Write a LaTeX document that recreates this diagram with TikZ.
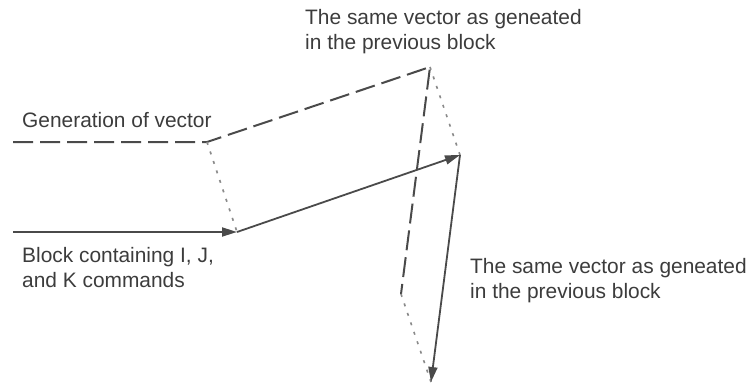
\documentclass[tikz,border=0pt]{standalone}
\usepackage{fontspec}
\setmainfont{Liberation Sans}
\usetikzlibrary{arrows.meta}
\definecolor{ink}{HTML}{4A4A4A}
\definecolor{txt}{HTML}{3C3C3C}
\definecolor{dotc}{HTML}{8A8A8A}
\tikzset{
  dashline/.style={draw=ink, line width=2pt, dash pattern=on 20pt off 7pt},
  dotline/.style={draw=dotc, line width=1.6pt, dash pattern=on 3pt off 7pt},
  vecline/.style={draw=ink, line width=1.8pt, -{Triangle[length=15pt,width=9pt]}},
  lbl/.style={inner sep=0pt, anchor=base west, align=left, text=txt,
    font=\fontsize{20.9}{24.5}\selectfont}
}
\begin{document}
\begin{tikzpicture}[x=1pt,y=-1pt]
\useasboundingbox (0,0) rectangle (750,383);
\coordinate (g0) at (13,142);
\coordinate (g1) at (207,142);
\coordinate (g2) at (430,67);
\coordinate (g3) at (401,294);
\coordinate (b0) at (13,232);
\coordinate (b1) at (237,232);
\coordinate (b2) at (460,155);
\coordinate (b3) at (431,382);
% dashed path
\draw[dashline] (g0) -- (g1) -- (g2) -- (g3);
% dotted connectors
\draw[dotline] (g1) -- (b1);
\draw[dotline] (g2) -- (b2);
\draw[dotline] (g3) -- (b3);
% solid vectors
\draw[vecline] (b0) -- (b1);
\draw[vecline] (b1) -- (b2);
\draw[vecline] (b2) -- (b3);
% labels (base anchor = baseline of last line)
\node[lbl] (tgen) at (22,127) {Generation of vector};
\node[lbl] (tblk) at (22,287) {Block containing I, J,\\and K commands};
\node[lbl] (ttop) at (305,49) {The same vector as geneated\\in the previous block};
\node[lbl] (tbot) at (470,298) {The same vector as geneated\\in the previous block};
\end{tikzpicture}
\end{document}
